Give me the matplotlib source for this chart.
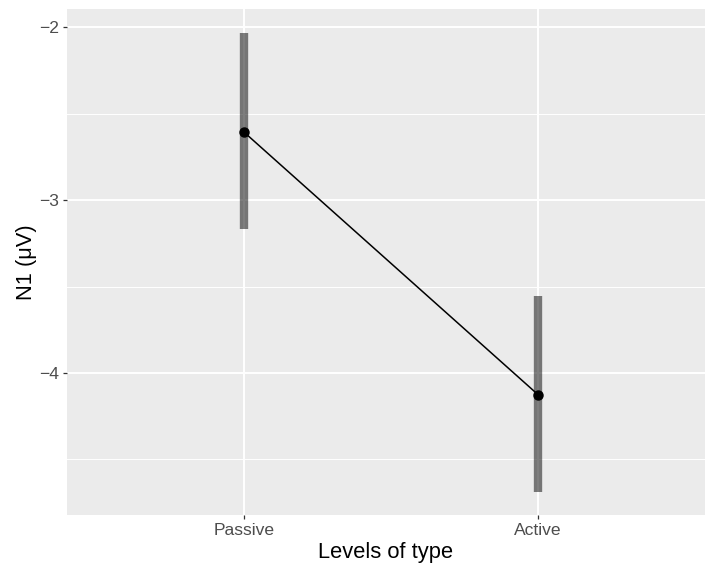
import matplotlib
matplotlib.use("Agg")
import matplotlib.pyplot as plt
from matplotlib.ticker import MultipleLocator

plt.rcParams['font.family'] = ['Liberation Sans', 'DejaVu Sans']

# data
levels = ["Passive", "Active"]
means = [-2.607, -4.125]
lower = [-3.170, -4.686]
upper = [-2.035, -3.553]

fig = plt.figure(figsize=(7.05, 5.70), dpi=100)
ax = fig.add_axes([0.095, 0.0965, 0.905, 0.8875])
ax.set_facecolor("#EBEBEB")

x = list(range(1, len(levels) + 1))

# intervals
ax.vlines(x, lower, upper, colors="black", alpha=0.5, linewidth=6.0, zorder=3)
# means line + points
ax.plot(x, means, color="black", linewidth=1.1, zorder=4)
ax.plot(x, means, "o", color="black", markersize=6.5, zorder=5)

ax.set_xlim(0.398, 2.568)
ax.set_ylim(-4.821, -1.896)
ax.set_xticks(x)
ax.set_xticklabels(levels)
ax.yaxis.set_major_locator(MultipleLocator(1))
ax.yaxis.set_minor_locator(MultipleLocator(0.5))
ax.set_yticklabels([str(int(t)).replace("-", "\u2212") for t in ax.get_yticks()])
ax.set_ylim(-4.821, -1.896)

ax.grid(which="major", color="white", linewidth=1.4)
ax.grid(which="minor", axis="y", color="white", linewidth=0.7)
ax.set_axisbelow(True)

for s in ax.spines.values():
    s.set_visible(False)

ax.tick_params(which="major", length=3, width=0.9, color="#333333",
               labelcolor="#4D4D4D", labelsize=12.6, pad=2.5)
ax.tick_params(which="minor", length=0)

ax.set_xlabel("Levels of type", fontsize=15.75, labelpad=3)
ax.set_ylabel("N1 (\u03bcV)", fontsize=15.75, labelpad=2)

fig.savefig("out.png", dpi=100)
